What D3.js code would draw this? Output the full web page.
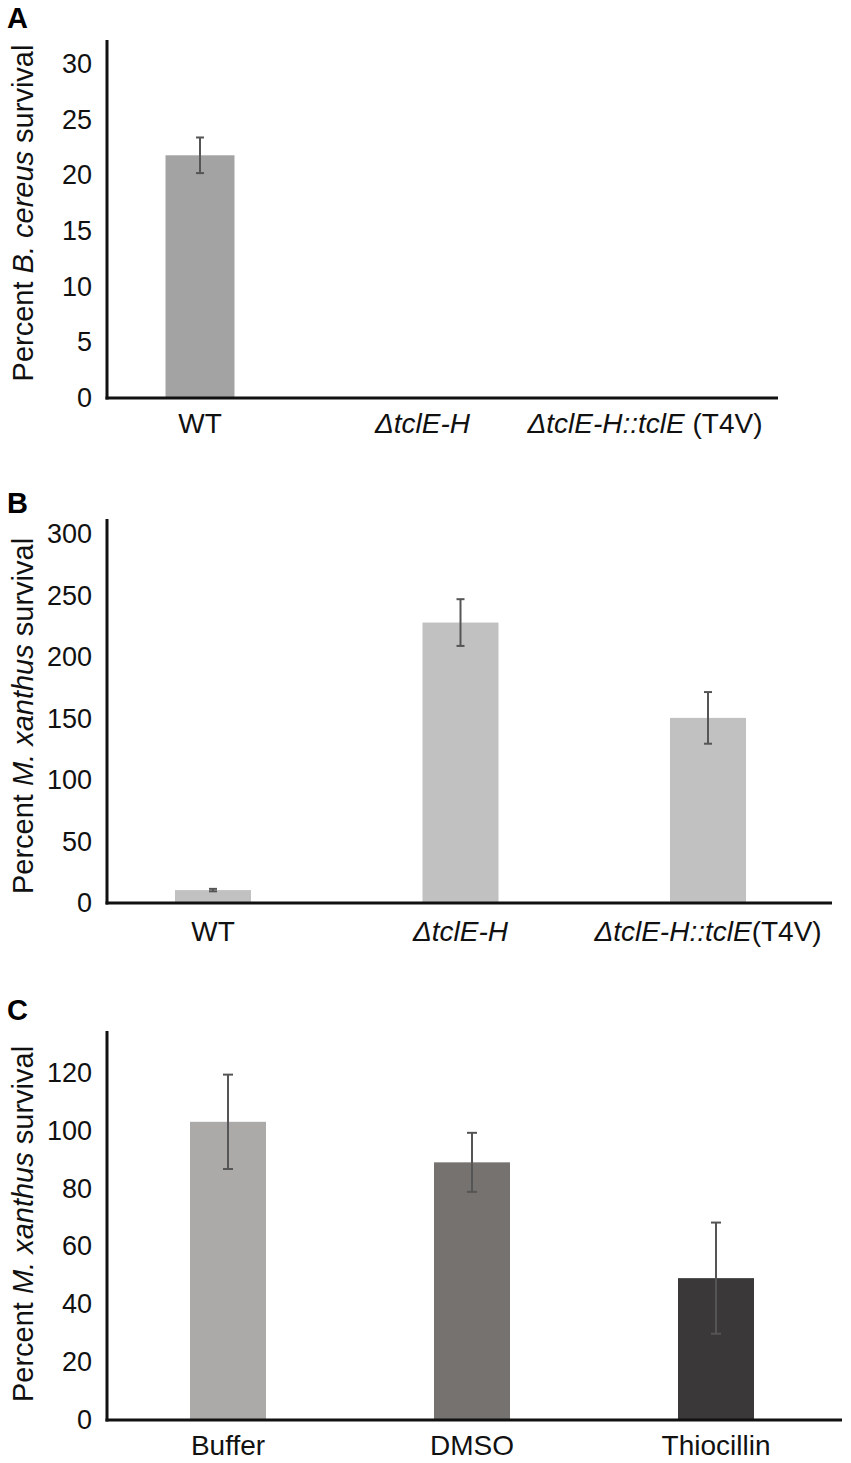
<!DOCTYPE html>
<html>
<head>
<meta charset="utf-8">
<script src="https://cdn.jsdelivr.net/npm/d3@7"></script>
<style>
  html, body { margin: 0; padding: 0; background: #fff; }
  svg { display: block; font-family: "Liberation Sans", Arial, Helvetica, sans-serif; }
</style>
</head>
<body>
<svg id="chart" width="851" height="1463"></svg>
<script>
// ---------- DATA ----------
// Panel A
const catsA   = ["WT", "*ΔtclE-H*", "*ΔtclE-H::tclE* (T4V)"];
const valsA   = [21.8, 0, 0];
const errsA   = [1.6, 0, 0];
const ticksA  = [0, 5, 10, 15, 20, 25, 30];
const titleA  = "Percent *B. cereus* survival";

// Panel B
const catsB   = ["WT", "*ΔtclE-H*", "*ΔtclE-H::tclE*(T4V)"];
const valsB   = [10.5, 228, 150.5];
const errsB   = [1, 19, 21];
const ticksB  = [0, 50, 100, 150, 200, 250, 300];
const titleB  = "Percent *M. xanthus* survival";

// Panel C
const catsC   = ["Buffer", "DMSO", "Thiocillin"];
const valsC   = [103, 89, 49];
const errsC   = [16.3, 10.2, 19.2];
const ticksC  = [0, 20, 40, 60, 80, 100, 120];
const titleC  = "Percent *M. xanthus* survival";

const colorsA = ["#a3a3a3", "#a3a3a3", "#a3a3a3"];
const colorsB = ["#c1c1c1", "#c1c1c1", "#c1c1c1"];
const colorsC = ["#acaaa9", "#76726f", "#3a3839"];

// ---------- LAYOUT ----------
const panels = [
  { letter: "A", letterY: 28, cats: catsA, vals: valsA, errs: errsA, ticks: ticksA, title: titleA, colors: colorsA,
    y0: 398, yTopVal: 30, yTopPx: 64, axisTop: 40, xRight: 778, xr: [200, 645], barW: 69, cap: 8, labelY: 433, titleY: 213 },
  { letter: "B", letterY: 513, cats: catsB, vals: valsB, errs: errsB, ticks: ticksB, title: titleB, colors: colorsB,
    y0: 903, yTopVal: 300, yTopPx: 534, axisTop: 519, xRight: 832, xr: [213, 708], barW: 76, cap: 8, labelY: 941, titleY: 716 },
  { letter: "C", letterY: 1020, cats: catsC, vals: valsC, errs: errsC, ticks: ticksC, title: titleC, colors: colorsC,
    y0: 1420, yTopVal: 120, yTopPx: 1072.6, axisTop: 1031, xRight: 842, xr: [228, 716], barW: 76, cap: 10, labelY: 1455, titleY: 1224 }
];
const axisX = 107;

const svg = d3.select("#chart");

function addRich(textSel, str) {
  const parts = str.split("*");
  parts.forEach((p, i) => {
    if (!p.length) return;
    textSel.append("tspan").attr("font-style", i % 2 === 1 ? "italic" : "normal").text(p);
  });
}

panels.forEach(P => {
  const g = svg.append("g");
  const y = d3.scaleLinear().domain([0, P.yTopVal]).range([P.y0, P.yTopPx]);
  const x = d3.scalePoint().domain(P.cats).range(P.xr);

  // Panel letter
  g.append("text").attr("x", 7).attr("y", P.letterY)
    .attr("font-size", 29).attr("font-weight", "bold").attr("fill", "#000").text(P.letter);

  // Bars
  const data = P.cats.map((c, i) => ({ c, v: P.vals[i], e: P.errs[i], col: P.colors[i] }));
  g.selectAll("rect.bar").data(data.filter(d => d.v > 0)).join("rect")
    .attr("class", "bar")
    .attr("x", d => x(d.c) - P.barW / 2)
    .attr("width", P.barW)
    .attr("y", d => y(d.v))
    .attr("height", d => y(0) - y(d.v))
    .attr("fill", d => d.col);

  // Error bars
  const eb = g.selectAll("g.err").data(data.filter(d => d.v > 0 && d.e > 0)).join("g").attr("class", "err")
    .attr("stroke", "#555").attr("stroke-width", 2);
  eb.append("line").attr("x1", d => x(d.c)).attr("x2", d => x(d.c))
    .attr("y1", d => y(d.v + d.e)).attr("y2", d => y(d.v - d.e));
  eb.append("line").attr("x1", d => x(d.c) - P.cap / 2).attr("x2", d => x(d.c) + P.cap / 2)
    .attr("y1", d => y(d.v + d.e)).attr("y2", d => y(d.v + d.e));
  eb.append("line").attr("x1", d => x(d.c) - P.cap / 2).attr("x2", d => x(d.c) + P.cap / 2)
    .attr("y1", d => y(d.v - d.e)).attr("y2", d => y(d.v - d.e));

  // Y axis (tick labels only)
  const ya = g.append("g").attr("transform", `translate(${axisX},0)`)
    .call(d3.axisLeft(y).tickValues(P.ticks).tickSize(0).tickPadding(15).tickFormat(d3.format("d")));
  ya.select(".domain").remove();
  ya.selectAll("text").attr("font-size", 27).attr("fill", "#111").attr("font-family", "Liberation Sans, Arial, sans-serif");

  // Axis lines
  g.append("line").attr("x1", axisX).attr("x2", axisX).attr("y1", P.axisTop).attr("y2", P.y0 + 1.5)
    .attr("stroke", "#111").attr("stroke-width", 3);
  g.append("line").attr("x1", axisX - 1.5).attr("x2", P.xRight).attr("y1", P.y0).attr("y2", P.y0)
    .attr("stroke", "#111").attr("stroke-width", 3);

  // X labels
  P.cats.forEach(c => {
    const t = g.append("text").attr("x", x(c)).attr("y", P.labelY)
      .attr("text-anchor", "middle").attr("font-size", 28).attr("fill", "#111");
    addRich(t, c);
  });

  // Y title
  const tt = g.append("text").attr("transform", `translate(33,${P.titleY}) rotate(-90)`)
    .attr("text-anchor", "middle").attr("font-size", 29).attr("fill", "#111");
  addRich(tt, P.title);
});
</script>
</body>
</html>
